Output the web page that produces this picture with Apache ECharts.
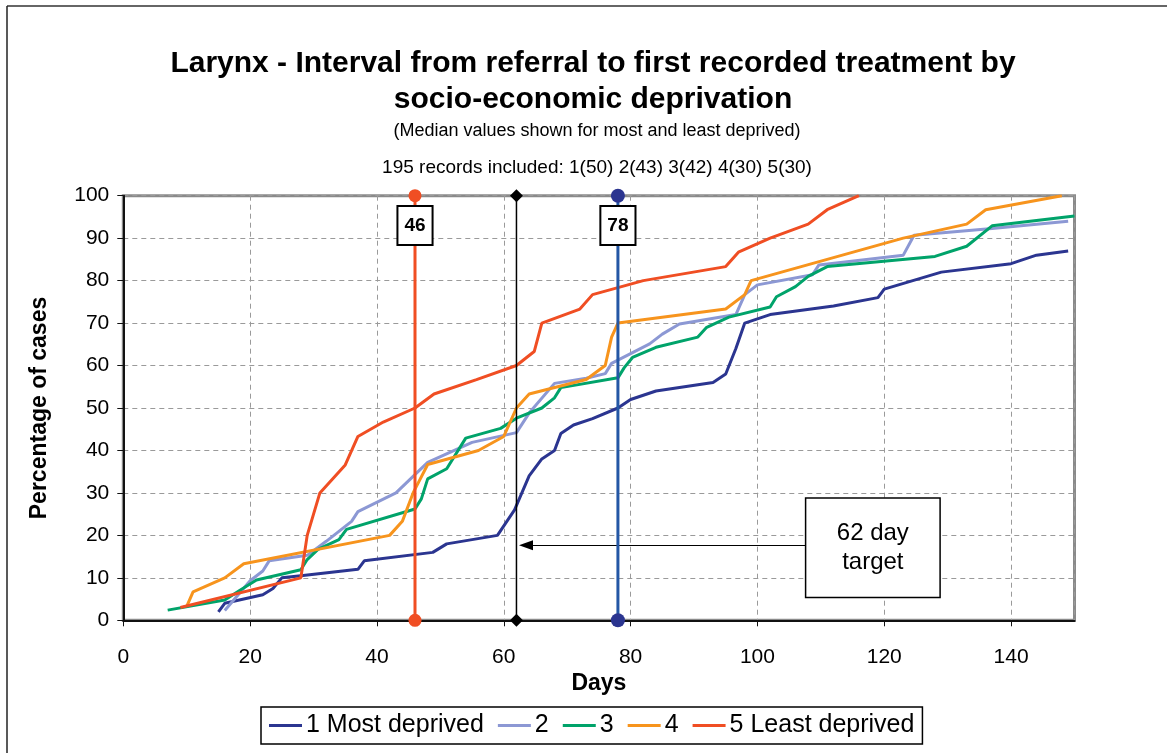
<!DOCTYPE html>
<html>
<head>
<meta charset="utf-8">
<title>Larynx - referral to first treatment</title>
<script src="https://cdn.jsdelivr.net/npm/echarts@6/dist/echarts.min.js"></script>
<style>
  html, body { margin: 0; padding: 0; background: #fff; }
  #chart { width: 1167px; height: 753px; }
</style>
</head>
<body>
<div id="chart"></div>
<script>
// cumulative percentage of cases treated, [days, percent], per deprivation quintile
const group1 = [[15,2],[16,4],[22,6],[23.6,7.5],[25,10],[28,10.5],[37,12],[38,14],[48.8,16],[51,18],[59,20],[61.7,26],[64,34],[66,38],[68,40],[69,44],[71,46],[74,47.5],[78,50],[80,52],[84,54],[93,56],[95,58],[96.6,64],[98,70],[102,72],[112,74],[119,76],[120,78],[129,82],[140,84],[144,86],[149,87]];
const group2 = [[16,2.3],[20,9.3],[22,11.6],[23,14],[29,15.3],[32,18.6],[36,23.3],[37,25.6],[43,30],[48,37.2],[55,41.9],[62,44.2],[64,48.8],[68,55.8],[73,57],[76,58.1],[77,60.5],[83,65.1],[85,67.4],[87.7,69.8],[96.6,72],[98,76.7],[100,79],[108.7,81.4],[109.7,83.7],[123,86],[124.7,90.7],[137,92.3],[149,94]];
const group3 = [[7,2.4],[16,4.8],[18.4,7.1],[21,9.5],[28,11.9],[29,14.3],[30.7,16.7],[34,19],[35.2,21.4],[46,26.2],[47,28.6],[48,33.3],[51,35.7],[54,42.9],[59.5,45.2],[62,47.6],[66,50],[68,52.4],[69,54.8],[78,57.1],[79,59.5],[80.3,61.9],[84,64.3],[90.6,66.7],[92,69],[95.5,71.4],[102,73.8],[103,76.2],[106,78.6],[108,81],[111,83.3],[128,85.7],[133,88.1],[137,92.9],[150,95.2]];
const group4 = [[10,3.3],[11,6.7],[16,10],[19,13.3],[42,20],[44,23.3],[45.7,30],[48,36.7],[56,40],[60,43.3],[62,50],[64,53.3],[73,56.7],[76,60],[77,66.7],[78,70],[95,73.3],[98,76.7],[99,80],[123,90],[133,93.3],[136,96.7],[148,100]];
const group5 = [[9,3],[28,10],[29,20],[31,30],[35,36.6],[37,43.3],[41,46.7],[46,50],[49,53.3],[55.7,56.7],[62,60],[64.8,63.3],[66,70],[72,73.3],[74,76.7],[82,80],[95,83.3],[97,86.7],[102,90],[108,93.3],[111,96.7],[116,100]];

const groupNames = ['1 Most deprived', '2', '3', '4', '5 Least deprived'];
const groupColors = ['#2b3590', '#8c98d4', '#00a36a', '#f7941d', '#f04e23'];

const medianLeast = 46;
const medianMost = 78;
const targetDays = 62;
const medianLabelY = 93;
const targetNote = { x: 118.2, y: 17.1, arrowY: 17.7, from: 107.9, to: 63.5 };

const font = 'Liberation Sans, Arial, sans-serif';
const chart = echarts.init(document.getElementById('chart'));

const curve = (name, data, color) => ({
  name,
  type: 'line',
  data,
  symbol: 'none',
  lineStyle: { color, width: 3 },
  itemStyle: { color },
  z: 3,
});

const dropLine = (day, lineColor, markColor, symbol, size, width) => ({
  type: 'line',
  data: [[day, 0], [day, 100]],
  symbol,
  symbolSize: size,
  showSymbol: true,
  lineStyle: { color: lineColor, width },
  itemStyle: { color: markColor },
  z: 5,
});

// invisible point carrying a boxed text label
const noteBox = (point, text, label) => ({
  type: 'scatter',
  data: [point],
  symbolSize: 0,
  itemStyle: { color: 'transparent', opacity: 1 },
  z: 6,
  label: Object.assign({
    show: true,
    position: 'inside',
    formatter: text,
    fontFamily: font,
    color: '#000',
    opacity: 1,
    backgroundColor: '#fff',
    borderColor: '#000',
  }, label),
});

chart.setOption({
  animation: false,
  textStyle: { fontFamily: font },
  graphic: [
    { type: 'line', shape: { x1: 7, y1: 6, x2: 1167, y2: 6 }, style: { stroke: '#333', lineWidth: 1.5 } },
    { type: 'line', shape: { x1: 7, y1: 6, x2: 7, y2: 753 }, style: { stroke: '#222', lineWidth: 1.5 } },
  ],
  title: [
    {
      text: 'Larynx - Interval from referral to first recorded treatment by\nsocio-economic deprivation',
      left: 588, top: 41, textAlign: 'center',
      textStyle: { fontFamily: font, fontSize: 30, fontWeight: 'bold', lineHeight: 36, color: '#000' },
    },
    {
      text: '(Median values shown for most and least deprived)',
      left: 592, top: 117, textAlign: 'center',
      textStyle: { fontFamily: font, fontSize: 18, fontWeight: 'normal', color: '#000' },
    },
    {
      text: '195 records included: 1(50) 2(43) 3(42) 4(30) 5(30)',
      left: 592, top: 153, textAlign: 'center',
      textStyle: { fontFamily: font, fontSize: 19, fontWeight: 'normal', color: '#000' },
    },
  ],
  legend: {
    data: groupNames,
    left: 261, top: 707,
    padding: [6, 8, 6, 8],
    itemGap: 14,
    itemWidth: 33,
    itemHeight: 3,
    icon: 'rect',
    borderColor: '#000',
    borderWidth: 1.5,
    textStyle: { fontFamily: font, fontSize: 25, color: '#000', padding: [2, 0, 0, -1] },
  },
  grid: {
    left: 123.3, top: 195.7, right: 92.5, bottom: 132.7,
    show: true, borderColor: '#8a8a8a', borderWidth: 3, backgroundColor: '#fff',
  },
  xAxis: {
    type: 'value', min: 0, max: 150, interval: 20,
    name: 'Days', nameLocation: 'middle', nameGap: 51,
    nameTextStyle: { fontFamily: font, fontSize: 23, fontWeight: 'bold', color: '#000' },
    axisLine: { show: true, onZero: false, lineStyle: { color: '#111', width: 2 } },
    axisTick: { show: true, length: 6, lineStyle: { color: '#111' } },
    axisLabel: { fontFamily: font, fontSize: 21, color: '#000', margin: 26, showMaxLabel: false },
    splitLine: { show: true, lineStyle: { color: '#9a9a9a', type: [5, 4], width: 1 } },
  },
  yAxis: {
    type: 'value', min: 0, max: 100, interval: 10,
    name: 'Percentage of cases', nameLocation: 'middle', nameGap: 72,
    nameTextStyle: { fontFamily: font, fontSize: 23, fontWeight: 'bold', color: '#000' },
    axisLine: { show: true, lineStyle: { color: '#111', width: 2 } },
    axisTick: { show: true, length: 6, lineStyle: { color: '#111' } },
    axisLabel: { fontFamily: font, fontSize: 21, color: '#000', margin: 14 },
    splitLine: { show: true, lineStyle: { color: '#9a9a9a', type: [5, 4], width: 1 } },
  },
  series: [
    curve(groupNames[0], group1, groupColors[0]),
    curve(groupNames[1], group2, groupColors[1]),
    curve(groupNames[2], group3, groupColors[2]),
    curve(groupNames[3], group4, groupColors[3]),
    curve(groupNames[4], group5, groupColors[4]),
    dropLine(medianLeast, '#f04e23', '#f04e23', 'circle', 13, 3),
    dropLine(targetDays, '#000', '#000', 'diamond', 13, 1.5),
    dropLine(medianMost, '#2457a5', '#2b3590', 'circle', 14, 3),
    noteBox([medianLeast, medianLabelY], String(medianLeast),
      { fontSize: 19, fontWeight: 'bold', borderWidth: 2, padding: [10, 6, 8, 6] }),
    noteBox([medianMost, medianLabelY], String(medianMost),
      { fontSize: 19, fontWeight: 'bold', borderWidth: 2, padding: [10, 6, 8, 6] }),
    Object.assign(
      noteBox([targetNote.x, targetNote.y], '62 day\ntarget',
        { fontSize: 24, lineHeight: 29, align: 'center', width: 77, borderWidth: 1.5, padding: [20, 28, 20, 28] }),
      {
        markLine: {
          silent: true,
          symbol: ['none', 'triangle'],
          symbolSize: [10, 14],
          label: { show: false },
          lineStyle: { color: '#000', width: 1, type: 'solid' },
          data: [[
            { coord: [targetNote.from, targetNote.arrowY] },
            { coord: [targetNote.to, targetNote.arrowY] },
          ]],
        },
      }
    ),
  ],
});
</script>
</body>
</html>
